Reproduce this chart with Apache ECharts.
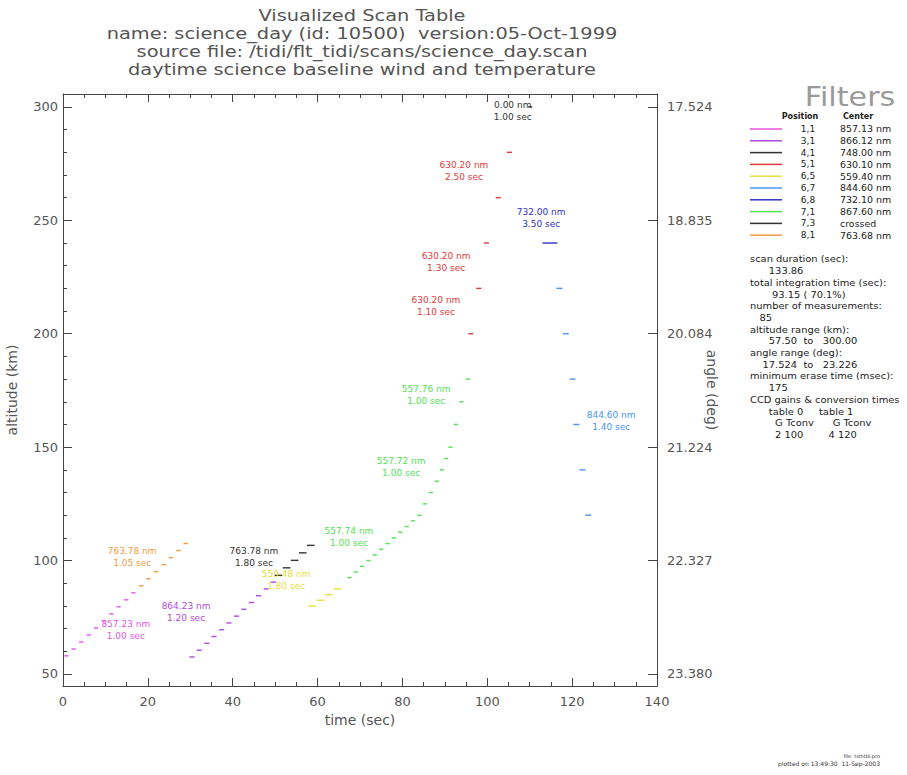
<!DOCTYPE html>
<html><head><meta charset="utf-8">
<script src="https://cdn.jsdelivr.net/npm/echarts@6/dist/echarts.min.js"></script>
<style>html,body{margin:0;padding:0;background:#fff}#c{width:907px;height:775px}</style>
</head><body><div id="c"></div>
<script>
// ---------- filters (legend) ----------
const filterPos = ['1,1','3,1','4,1','5,1','6,5','6,7','6,8','7,1','7,3','8,1'];
const filterCenter = ['857.13 nm','866.12 nm','748.00 nm','630.10 nm','559.40 nm','844.60 nm','732.10 nm','867.60 nm','crossed','763.68 nm'];
const filterColor = ['#e455e4','#b04ae0','#333333','#e23a3a','#e6e040','#4a95f0','#3030c8','#55e055','#333333','#f29a45'];

// ---------- measurements: start time (sec), altitude (km) per group ----------
const timeMag1 = [0.3, 2.0, 3.8, 5.6, 7.3, 9.1, 10.9, 12.6, 14.4, 16.1];
const altMag1  = [58.0, 61.0, 64.1, 67.2, 70.3, 73.4, 76.5, 79.6, 82.7, 85.8];
const timeOrange = [17.9, 19.6, 21.4, 23.2, 24.9, 26.7, 28.4];
const altOrange  = [88.9, 92.0, 95.1, 98.2, 101.3, 104.4, 107.5];
const timeMag2 = [29.8, 31.5, 33.3, 35.0, 36.8, 38.5, 40.3, 42.0, 43.8, 45.5, 47.3, 49.0];
const altMag2  = [57.5, 60.5, 63.5, 66.5, 69.5, 72.5, 75.5, 78.5, 81.5, 84.5, 87.5, 90.5];
const timeBlack = [49.9, 51.8, 53.7, 55.6, 57.5];
const altBlack  = [93.5, 96.8, 100.1, 103.4, 106.7];
const timeYellow = [57.8, 59.8, 61.8, 63.8];
const altYellow  = [80.0, 82.5, 85.0, 87.5];
const timeGreen = [67.0, 68.5, 70.0, 71.5, 73.0, 74.5, 76.0, 77.5, 79.0, 80.5, 82.0, 83.5, 84.8, 86.2, 87.6, 88.8, 89.8, 90.8, 92.1, 93.4, 94.9];
const altGreen  = [92.5, 95.0, 97.5, 100.0, 102.5, 105.0, 107.5, 110.0, 112.5, 115.0, 117.5, 120.0, 125.0, 130.0, 135.0, 140.0, 145.0, 150.0, 160.0, 170.0, 180.0];
const timeRed = [95.5, 97.4, 99.2, 102.0, 104.6];
const altRed  = [200, 220, 240, 260, 280];
const timeBlue = [113.0];
const altBlue  = [240];
const timeLtBlue = [116.3, 117.8, 119.4, 120.3, 121.7, 123.1];
const altLtBlue  = [220, 200, 180, 160, 140, 120];
const timeCrossed = [109.6];
const altCrossed  = [300];

const groupTimes   = [timeMag1, timeOrange, timeMag2, timeBlack, timeYellow, timeGreen, timeRed, timeBlue, timeLtBlue, timeCrossed];
const groupAlts    = [altMag1, altOrange, altMag2, altBlack, altYellow, altGreen, altRed, altBlue, altLtBlue, altCrossed];
const groupDur     = [1.00, 1.05, 1.20, 1.80, 1.80, 1.00, 1.20, 3.50, 1.40, 1.00];
const groupFilter  = [0, 9, 1, 2, 4, 7, 3, 6, 5, 8];

// ---------- annotation labels ----------
const labelTime  = [16.3, 14.8, 29.0, 45.0, 52.6, 67.4, 79.7, 85.6, 87.9, 90.3, 94.5, 112.7, 129.2, 106.0];
const labelAlt   = [101.6, 69.4, 77.3, 101.6, 91.4, 110.4, 141.3, 173.0, 212.3, 231.7, 271.8, 251.0, 161.5, 298.2];
const labelLine1 = ['763.78 nm','857.23 nm','864.23 nm','763.78 nm','559.48 nm','557.74 nm','557.72 nm','557.76 nm','630.20 nm','630.20 nm','630.20 nm','732.00 nm','844.60 nm','0.00 nm'];
const labelLine2 = ['1.05 sec','1.00 sec','1.20 sec','1.80 sec','1.80 sec','1.00 sec','1.00 sec','1.00 sec','1.10 sec','1.30 sec','2.50 sec','3.50 sec','1.40 sec','1.00 sec'];
const labelFilter = [9, 0, 1, 2, 4, 7, 7, 7, 3, 3, 3, 6, 5, 8];

// ---------- axes ----------
const altMajorTicks = [50, 100, 150, 200, 250, 300];
const altMinorTicks = [50, 60, 70, 80, 90, 100, 110, 120, 130, 140, 150, 160, 170, 180, 190, 200, 210, 220, 230, 240, 250, 260, 270, 280, 290, 300];
const angleTickLabels = ['23.380', '22.327', '21.224', '20.084', '18.835', '17.524'];

// ---------- text blocks ----------
const titleLines = [
  'Visualized Scan Table',
  'name: science_day (id: 10500)  version:05-Oct-1999',
  'source file: /tidi/flt_tidi/scans/science_day.scan',
  'daytime science baseline wind and temperature'
];
const statLines = [
  'scan duration (sec):', '      133.86',
  'total integration time (sec):', '       93.15 ( 70.1%)',
  'number of measurements:', '   85',
  'altitude range (km):', '      57.50  to   300.00',
  'angle range (deg):', '    17.524  to   23.226',
  'minimum erase time (msec):', '      175',
  'CCD gains & conversion times', '      table 0     table 1',
  '        G Tconv      G Tconv', '        2 100        4 120'
];

// build data
const measData = [];
groupTimes.forEach((ts, g) => ts.forEach((t, i) => measData.push([t, groupAlts[g][i], groupDur[g], groupFilter[g]])));
const labData = labelTime.map((t, i) => [t, labelAlt[i], i]);

const chart = echarts.init(document.getElementById('c'), null, {renderer: 'svg'});
const FONT = 'DejaVu Sans';
const axisCol = '#444';
const graphics = [];
const titleY = [16, 34, 52, 70];
titleLines.forEach((s, i) => graphics.push({type: 'text', x: 362, y: titleY[i], scaleX: 1.25,
  style: {text: s, fill: '#555', font: '15.5px "' + FONT + '"', lineHeight: 16, align: 'center', verticalAlign: 'middle'}}));
graphics.push({type: 'text', x: 850, y: 97, scaleX: 1.12, style: {text: 'Filters', fill: '#9a9a9a', font: '27px "' + FONT + '"', lineHeight: 22, align: 'center', verticalAlign: 'middle'}});
graphics.push({type: 'text', x: 800, y: 116, style: {text: 'Position', fill: '#222', font: 'bold 8px "' + FONT + '"', lineHeight: 8, align: 'center', verticalAlign: 'middle'}});
graphics.push({type: 'text', x: 858, y: 116, style: {text: 'Center', fill: '#222', font: 'bold 8px "' + FONT + '"', lineHeight: 8, align: 'center', verticalAlign: 'middle'}});
filterPos.forEach((p, i) => {
  const y = 129 + i * 11.8;
  graphics.push({type: 'line', shape: {x1: 750, y1: y, x2: 782, y2: y}, style: {stroke: filterColor[i], lineWidth: 1.5}});
  graphics.push({type: 'text', x: 808, y: y, style: {text: p, fill: '#222', font: '9px "' + FONT + '"', lineHeight: 10, align: 'center', verticalAlign: 'middle'}});
  graphics.push({type: 'text', x: 840, y: y, scaleX: 1.05, style: {text: filterCenter[i], fill: '#222', font: '9px "' + FONT + '"', lineHeight: 10, align: 'left', verticalAlign: 'middle'}});
});
statLines.forEach((s, i) => graphics.push({type: 'text', x: 750, y: 259 + i * 11.7, scaleX: 1.04,
  style: {text: s, fill: '#222', font: '9.5px "' + FONT + '"', lineHeight: 10, align: 'left', verticalAlign: 'middle'}}));
graphics.push({type: 'text', x: 880, y: 756, style: {text: 'file: tsmtbl.pro', fill: '#333', font: '5px "' + FONT + '"', lineHeight: 5, align: 'right', verticalAlign: 'middle'}});
graphics.push({type: 'text', x: 880, y: 763, style: {text: 'plotted on 13:49:30  11-Sep-2003', fill: '#333', font: '6px "' + FONT + '"', lineHeight: 6, align: 'right', verticalAlign: 'middle'}});

const tickLab = {color: '#555', fontFamily: FONT, fontSize: 13};
const option = {
  animation: false,
  backgroundColor: '#fff',
  grid: {left: 63, right: 250, top: 94, bottom: 89, containLabel: false, outerBoundsMode: 'none'},
  xAxis: [
    {type: 'value', min: 0, max: 140, interval: 20, position: 'bottom',
     name: 'time (sec)', nameLocation: 'middle', nameGap: 27, nameMoveOverlap: false, nameTextStyle: {color: '#555', fontFamily: FONT, fontSize: 14},
     axisLine: {show: true, lineStyle: {color: axisCol}}, axisTick: {show: true, inside: true, length: 8, lineStyle: {color: axisCol}},
     minorTick: {show: true, splitNumber: 4, length: 4, lineStyle: {color: axisCol}},
     axisLabel: Object.assign({margin: 9}, tickLab), splitLine: {show: false}},
    {type: 'value', min: 0, max: 140, interval: 20, position: 'top',
     axisLine: {show: true, lineStyle: {color: axisCol}}, axisTick: {show: true, inside: true, length: 8, lineStyle: {color: axisCol}},
     minorTick: {show: true, splitNumber: 4, length: 4, lineStyle: {color: axisCol}},
     axisLabel: {show: false}, splitLine: {show: false}}
  ],
  yAxis: [
    {type: 'value', min: 44.7, max: 305.7, position: 'left',
     name: 'altitude (km)', nameLocation: 'middle', nameGap: 44, nameMoveOverlap: false, nameTextStyle: {color: '#555', fontFamily: FONT, fontSize: 14},
     axisLine: {show: true, lineStyle: {color: axisCol}},
     axisTick: {show: true, inside: true, length: 9, customValues: altMajorTicks, lineStyle: {color: axisCol}},
     axisLabel: Object.assign({margin: 5, customValues: altMajorTicks}, tickLab), splitLine: {show: false}},
    {type: 'value', min: 44.7, max: 305.7, position: 'left',
     axisLine: {show: false},
     axisTick: {show: true, inside: true, length: 4, customValues: altMinorTicks, lineStyle: {color: axisCol}},
     axisLabel: {show: false, customValues: altMinorTicks}, splitLine: {show: false}},
    {type: 'value', min: 44.7, max: 305.7, position: 'right',
     name: 'angle (deg)', nameLocation: 'middle', nameGap: 48, nameMoveOverlap: false, nameRotate: -90, nameTextStyle: {color: '#555', fontFamily: FONT, fontSize: 14},
     axisLine: {show: true, lineStyle: {color: axisCol}},
     axisTick: {show: true, inside: true, length: 9, customValues: altMajorTicks, lineStyle: {color: axisCol}},
     axisLabel: Object.assign({margin: 10, customValues: altMajorTicks,
       formatter: v => angleTickLabels[altMajorTicks.indexOf(Math.round(v))] || ''}, tickLab),
     splitLine: {show: false}}
  ],
  series: [
    {type: 'custom', xAxisIndex: 0, yAxisIndex: 0, data: measData, encode: {x: [0], y: [1]}, clip: true,
     renderItem: (params, api) => {
       const t = api.value(0), a = api.value(1), d = api.value(2), f = api.value(3);
       const p1 = api.coord([t, a]), p2 = api.coord([t + d, a]);
       return {type: 'line', shape: {x1: p1[0], y1: p1[1], x2: p2[0], y2: p2[1]}, style: {stroke: filterColor[f], lineWidth: 1.4}};
     }},
    {type: 'custom', xAxisIndex: 0, yAxisIndex: 0, data: labData, encode: {x: [0], y: [1]}, silent: true,
     renderItem: (params, api) => {
       const i = api.value(2);
       const p = api.coord([api.value(0), api.value(1)]);
       return {type: 'text', x: p[0], y: p[1], style: {text: labelLine1[i] + '\n' + labelLine2[i], fill: filterColor[labelFilter[i]],
         font: '9px "' + FONT + '"', align: 'center', verticalAlign: 'middle', lineHeight: 12}};
     }}
  ],
  graphic: graphics
};
chart.setOption(option);
</script></body></html>
